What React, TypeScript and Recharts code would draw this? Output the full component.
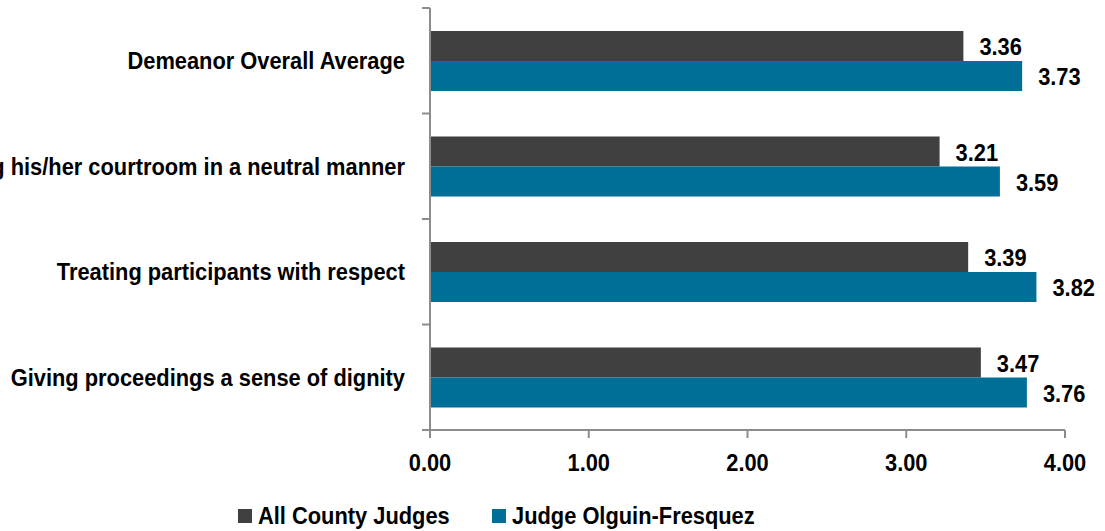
import { Bar, BarChart, LabelList, Legend, XAxis, YAxis } from 'recharts'

const categories = [
  'Demeanor Overall Average',
  'Conducting his/her courtroom in a neutral manner',
  'Treating participants with respect',
  'Giving proceedings a sense of dignity',
]
const allCountyJudges = [3.36, 3.21, 3.39, 3.47]
const judgeOlguin = [3.73, 3.59, 3.82, 3.76]
const xTicks = [0, 1, 2, 3, 4]

const data = categories.map((name, i) => ({
  name,
  all: allCountyJudges[i],
  judge: judgeOlguin[i],
}))

// Arial-like bold, squeezed a bit to mimic the narrow font in the original
const FONT = "'Liberation Sans', Arial, sans-serif"
const FS = 24
const SX = 0.91
const AXIS = '#8c8c8c'
const DARK = '#404040'
const BLUE = '#006f97'

const W = 1105
const H = 531
const TOP = 8
const PLOT_LEFT = 430
const PLOT_BOTTOM = 430
const BAND = (PLOT_BOTTOM - TOP) / categories.length

function NarrowText({ x, y, anchor, children }: any) {
  return (
    <text
      transform={`translate(${x},${y}) scale(${SX},1)`}
      textAnchor={anchor}
      dominantBaseline='central'
      fontFamily={FONT}
      fontWeight='bold'
      fontSize={FS}
      fill='#000'
    >
      {children}
    </text>
  )
}

function CategoryTick(props: any) {
  const { y, payload, index } = props
  return (
    <g>
      <NarrowText x={PLOT_LEFT - 25} y={y} anchor='end'>
        {payload.value}
      </NarrowText>
      <line x1={PLOT_LEFT - 8} x2={PLOT_LEFT} y1={y - BAND / 2} y2={y - BAND / 2} stroke={AXIS} strokeWidth={2} />
      {index === categories.length - 1 && (
        <line x1={PLOT_LEFT - 8} x2={PLOT_LEFT} y1={y + BAND / 2} y2={y + BAND / 2} stroke={AXIS} strokeWidth={2} />
      )}
    </g>
  )
}

function ValueTick(props: any) {
  const { x, payload } = props
  return (
    <NarrowText x={x} y={PLOT_BOTTOM + 33} anchor='middle'>
      {Number(payload.value).toFixed(2)}
    </NarrowText>
  )
}

function BarValue(props: any) {
  const { x, y, width, height, value } = props
  return (
    <NarrowText x={x + width + 16} y={y + height / 2 + 1} anchor='start'>
      {Number(value).toFixed(2)}
    </NarrowText>
  )
}

function LegendContent() {
  const items = [
    { label: 'All County Judges', color: DARK, left: 238 },
    { label: 'Judge Olguin-Fresquez', color: BLUE, left: 492 },
  ]
  return (
    <div style={{ position: 'relative', height: 30, fontFamily: FONT, fontWeight: 'bold', fontSize: FS, color: '#000' }}>
      {items.map((it) => (
        <div key={it.label}>
          <span style={{ position: 'absolute', left: it.left, top: 8, width: 14, height: 14, background: it.color }} />
          <span
            style={{
              position: 'absolute',
              left: it.left + 20,
              top: 0,
              lineHeight: '30px',
              whiteSpace: 'nowrap',
              transform: `scaleX(${SX})`,
              transformOrigin: 'left center',
            }}
          >
            {it.label}
          </span>
        </div>
      ))}
    </div>
  )
}

export default function App() {
  return (
    <div style={{ position: 'absolute', left: 0, top: 0, width: W, height: H, background: '#fff' }}>
      <BarChart
        width={W}
        height={H}
        data={data}
        layout='vertical'
        margin={{ top: TOP, right: 40, left: 0, bottom: 0 }}
        barGap={0}
      >
        <XAxis
          type='number'
          domain={[0, 4]}
          ticks={xTicks}
          height={71}
          stroke={AXIS}
          strokeWidth={2}
          tickSize={8}
          tick={<ValueTick />}
        />
        <YAxis
          type='category'
          dataKey='name'
          width={PLOT_LEFT}
          stroke={AXIS}
          strokeWidth={2}
          tickLine={false}
          tick={<CategoryTick />}
          interval={0}
        />
        <Legend verticalAlign='bottom' height={30} content={<LegendContent />} />
        <Bar dataKey='all' name='All County Judges' fill={DARK} barSize={30} isAnimationActive={false}>
          <LabelList dataKey='all' content={<BarValue />} />
        </Bar>
        <Bar dataKey='judge' name='Judge Olguin-Fresquez' fill={BLUE} barSize={30} isAnimationActive={false}>
          <LabelList dataKey='judge' content={<BarValue />} />
        </Bar>
      </BarChart>
    </div>
  )
}
